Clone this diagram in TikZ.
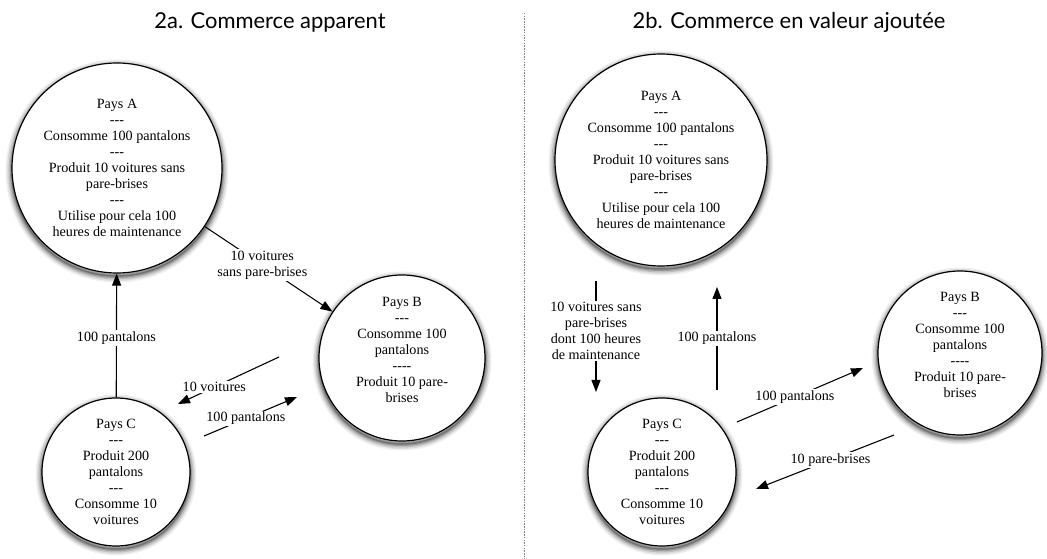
\documentclass[tikz,border=0pt]{standalone}
\usepackage{fontspec}
\setmainfont{Liberation Serif}[Ligatures=TeXOff]
\newfontfamily\titlefont{Lato}
\usetikzlibrary{arrows.meta}
\begin{document}
\begin{tikzpicture}[x=1bp,y=-1bp,
  shadowring/.style 2 args={preaction={fill=none, draw=black!#1, line width=#2, transform canvas={yshift=-3bp}}},
  country/.style={circle, line width=1.2bp, minimum size=#1, inner sep=0pt, align=center,
    font=\fontsize{14.2}{16}\selectfont,
    shadowring={6}{13bp}, shadowring={14}{10bp}, shadowring={26}{7bp},
    shadowring={40}{4bp}, shadowring={55}{1.5bp},
    draw=black, fill=white},
  flow/.style={line width=1.1bp, -{Triangle[length=12bp,width=9bp]}},
  lbl/.style={font=\fontsize{14.2}{16}\selectfont, align=center, fill=white, inner sep=1.5bp},
  ttl/.style={font=\titlefont\fontsize{22}{24}\selectfont, anchor=base},
  divider/.style={gray, line width=0.8bp, dash pattern=on 1.5bp off 1.2bp}
]
\useasboundingbox (0,0) rectangle (1047,559);

% titles
\node[ttl] (t1) at (270,29) {2a. Commerce apparent};
\node[ttl] (t2) at (789,29) {2b. Commerce en valeur ajoutée};

% divider
\coordinate (d1) at (524,13);
\coordinate (d2) at (524,559);
\draw[divider] (d1) -- (d2);

% ---- left panel ----
\node[country=210bp] (A1) at (117,168) {Pays A\\---\\Consomme 100 pantalons\\---\\Produit 10 voitures sans\\pare-brises\\---\\Utilise pour cela 100\\heures de maintenance};
\node[country=166bp] (B1) at (402,358) {Pays B\\---\\Consomme 100\\pantalons\\----\\Produit 10 pare-\\brises\\\mbox{}};
\node[country=148bp] (C1) at (116,472) {Pays C\\---\\Produit 200\\pantalons\\---\\Consomme 10\\voitures};

\draw[flow] (A1) -- node[lbl, pos=0.45] {10 voitures\\sans pare-brises} (B1);
\draw[flow] (C1) -- node[lbl, pos=0.48] {100 pantalons} (A1);

\coordinate (b1s) at (279,357);
\coordinate (c1e) at (178,404);
\draw[flow] (b1s) -- node[lbl, pos=0.64] {10 voitures} (c1e);

\coordinate (c1s) at (204,436);
\coordinate (b1e) at (297,397);
\draw[flow] (c1s) -- node[lbl, pos=0.45] {100 pantalons} (b1e);

% ---- right panel ----
\node[country=212bp] (A2) at (661,160) {Pays A\\---\\Consomme 100 pantalons\\---\\Produit 10 voitures sans\\pare-brises\\---\\Utilise pour cela 100\\heures de maintenance};
\node[country=164bp] (B2) at (960,353) {Pays B\\---\\Consomme 100\\pantalons\\----\\Produit 10 pare-\\brises\\\mbox{}};
\node[country=148bp] (C2) at (662,472) {Pays C\\---\\Produit 200\\pantalons\\---\\Consomme 10\\voitures};

\coordinate (a2s) at (596,281);
\coordinate (c2e) at (596,392);
\draw[flow] (a2s) -- node[lbl, pos=0.45] {10 voitures sans\\pare-brises\\dont 100 heures\\de maintenance} (c2e);

\coordinate (c2s) at (717,390);
\coordinate (a2e) at (717,287);
\draw[flow] (c2s) -- node[lbl, pos=0.5] {100 pantalons} (a2e);

\coordinate (c2t) at (737,422);
\coordinate (b2e) at (863,368);
\draw[flow] (c2t) -- node[lbl, pos=0.46] {100 pantalons} (b2e);

\coordinate (b2s) at (894,435);
\coordinate (c2f) at (756,489);
\draw[flow] (b2s) -- node[lbl, pos=0.46] {10 pare-brises} (c2f);
\end{tikzpicture}
\end{document}
